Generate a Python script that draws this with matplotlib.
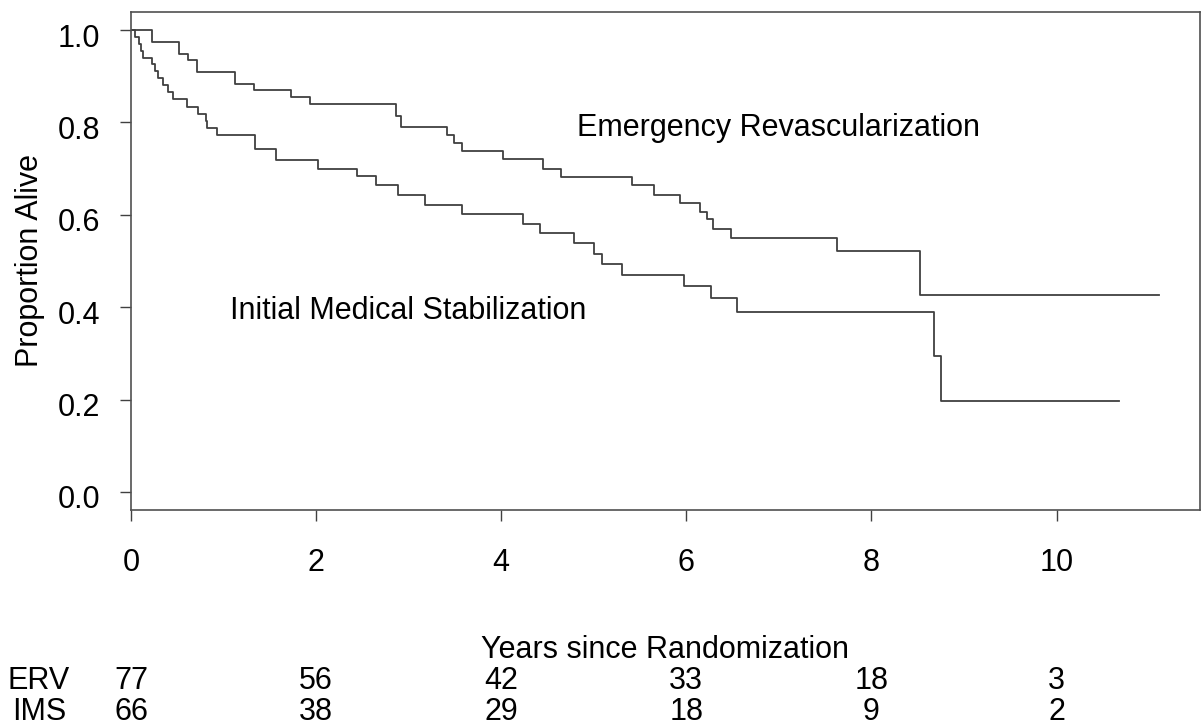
import matplotlib
matplotlib.use('Agg')
import matplotlib.pyplot as plt
from matplotlib.transforms import blended_transform_factory, ScaledTranslation

plt.rcParams['font.family'] = ['Liberation Sans', 'DejaVu Sans']

# Kaplan-Meier steps (years, proportion alive)
erv_time = [0, 0.23, 0.52, 0.62, 0.71, 1.12, 1.33, 1.725, 1.93, 2.86, 2.92,
            3.41, 3.49, 3.58, 4.02, 4.45, 4.65, 5.41, 5.65, 5.93, 6.15, 6.22,
            6.29, 6.48, 7.63, 8.52, 11.11]
erv_surv = [1.0, 0.974, 0.948, 0.935, 0.909, 0.884, 0.870, 0.855, 0.840, 0.815, 0.790,
            0.772, 0.756, 0.738, 0.720, 0.700, 0.682, 0.664, 0.644, 0.626, 0.606, 0.590,
            0.570, 0.550, 0.522, 0.427, 0.427]

ims_time = [0, 0.045, 0.09, 0.11, 0.13, 0.23, 0.26, 0.295, 0.35, 0.40, 0.45,
            0.61, 0.72, 0.81, 0.82, 0.93, 1.34, 1.57, 2.02, 2.44, 2.65, 2.89,
            3.18, 3.58, 4.24, 4.42, 4.79, 5.00, 5.09, 5.30, 5.97, 6.27, 6.55,
            8.68, 8.75, 10.67]
ims_surv = [1.0, 0.985, 0.970, 0.955, 0.939, 0.926, 0.911, 0.896, 0.881, 0.866, 0.850,
            0.834, 0.819, 0.803, 0.789, 0.773, 0.742, 0.718, 0.700, 0.684, 0.664, 0.644,
            0.622, 0.602, 0.581, 0.561, 0.538, 0.516, 0.494, 0.470, 0.445, 0.420, 0.389,
            0.295, 0.196, 0.196]

risk_times = [0, 2, 4, 6, 8, 10]
erv_risk = [77, 56, 42, 33, 18, 3]
ims_risk = [66, 38, 29, 18, 9, 2]

fs = 22
line_col = '#404040'

fig = plt.figure(figsize=(12.02, 7.26), dpi=100)
ax = fig.add_axes([0.1090, 0.2971, 0.8893, 0.6868])

ax.step(erv_time, erv_surv, where='post', color=line_col, linewidth=1.3)
ax.step(ims_time, ims_surv, where='post', color=line_col, linewidth=1.3)

ax.set_xlim(0, 11.55)
ax.set_ylim(-0.04, 1.04)
ax.set_xticks([0, 2, 4, 6, 8, 10])
ax.set_yticks([0.0, 0.2, 0.4, 0.6, 0.8, 1.0])
ax.set_yticklabels(['0.0', '0.2', '0.4', '0.6', '0.8', '1.0'])
ax.tick_params(axis='both', direction='out', length=8, width=1.0, colors='#404040',
               labelcolor='black', labelsize=fs)
ax.tick_params(axis='x', pad=19)
ax.tick_params(axis='y', pad=14)
# y labels sit a little below their ticks in the original
shift = ScaledTranslation(0, -0.05, fig.dpi_scale_trans)
for lbl in ax.get_yticklabels():
    lbl.set_transform(lbl.get_transform() + shift)
for s in ax.spines.values():
    s.set_color('#505050')
    s.set_linewidth(1.2)

ax.set_xlabel('Years since Randomization', fontsize=fs)
ax.xaxis.set_label_coords(0.5, -0.280)
ax.xaxis.label.set_va('center')
ax.set_ylabel('Proportion Alive', fontsize=fs)
ax.yaxis.set_label_coords(-0.0945, 0.5)
ax.yaxis.label.set_va('center')

ax.text(7.0, 0.789, 'Emergency Revascularization', fontsize=fs, ha='center', va='center')
ax.text(3.0, 0.391, 'Initial Medical Stabilization', fontsize=fs, ha='center', va='center')

# numbers at risk under the axis
tr = blended_transform_factory(ax.transData, fig.transFigure)
for t, a, b in zip(risk_times, erv_risk, ims_risk):
    ax.text(t, 0.0624, str(a), transform=tr, fontsize=fs, ha='center', va='center', clip_on=False)
    ax.text(t, 0.0197, str(b), transform=tr, fontsize=fs, ha='center', va='center', clip_on=False)
fig.text(0.0324, 0.0624, 'ERV', fontsize=fs, ha='center', va='center')
fig.text(0.0324, 0.0197, 'IMS', fontsize=fs, ha='center', va='center')

fig.savefig('out.png', dpi=100)
plt.close(fig)
